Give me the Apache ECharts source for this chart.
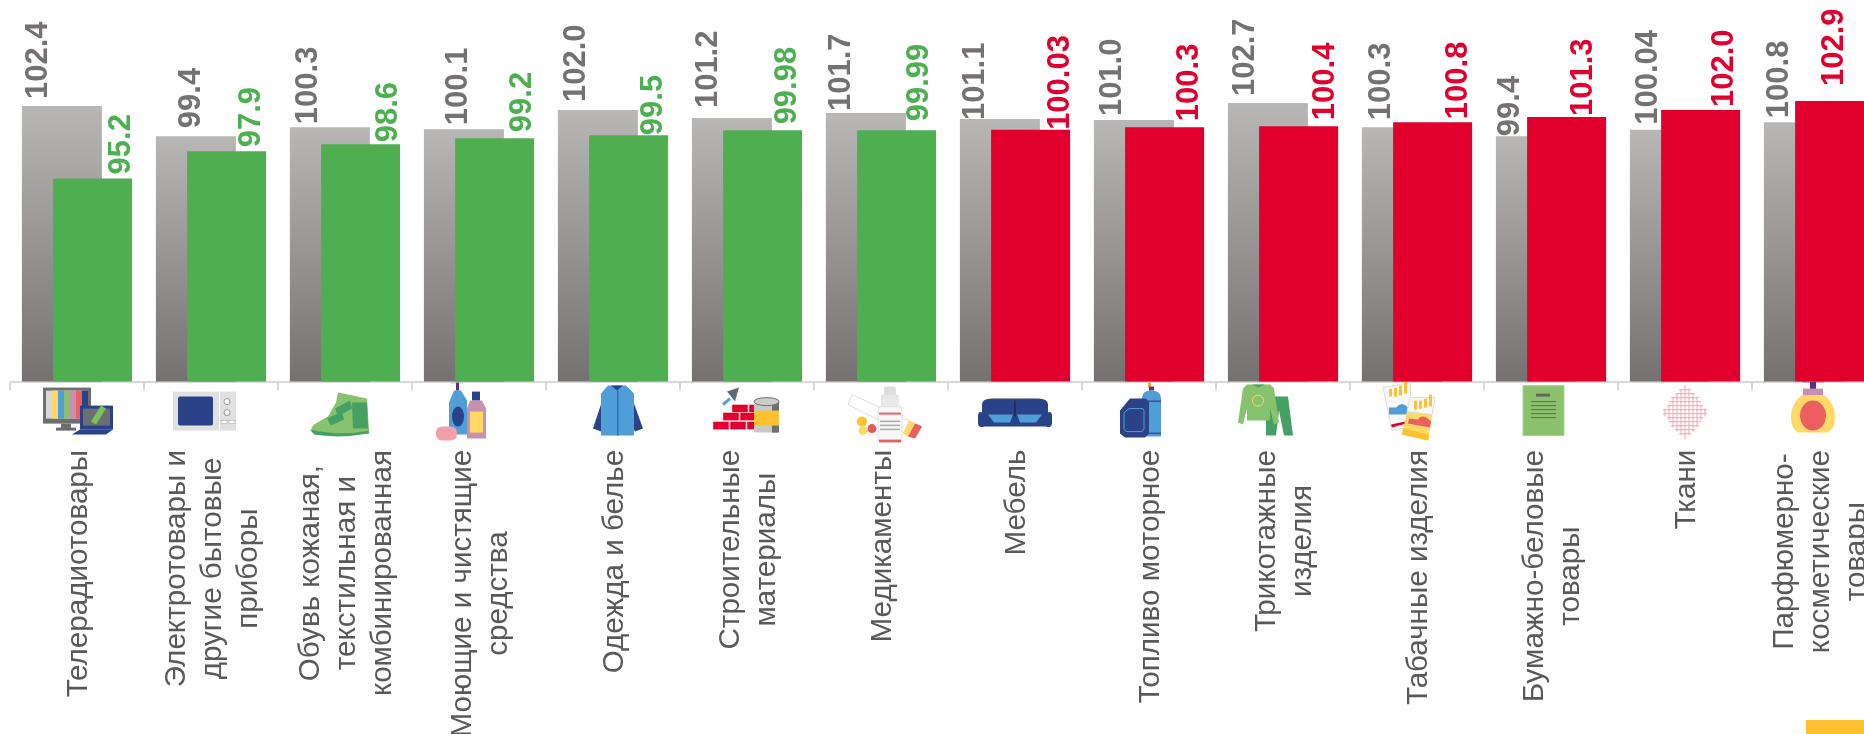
<!DOCTYPE html>
<html><head><meta charset="utf-8">
<style>html,body{margin:0;padding:0;background:#fff;overflow:hidden}#c{width:1864px;height:734px}</style>
<script src="https://cdn.jsdelivr.net/npm/echarts@6/dist/echarts.min.js"></script>
</head><body><div id="c"></div>
<script>
const categories = ['Телерадиотовары','Электротовары и\nдругие бытовые\nприборы','Обувь кожаная,\nтекстильная и\nкомбинированная','Моющие и чистящие\nсредства','Одежда и белье','Строительные\nматериалы','Медикаменты','Мебель','Топливо моторное','Трикотажные\nизделия','Табачные изделия','Бумажно-беловые\nтовары','Ткани','Парфюмерно-\nкосметические\nтовары'];
const previousValues = [102.4,99.4,100.3,100.1,102.0,101.2,101.7,101.1,101.0,102.7,100.3,99.4,100.04,100.8];
const currentValues = [95.2,97.9,98.6,99.2,99.5,99.98,99.99,100.03,100.3,100.4,100.8,101.3,102.0,102.9];
// label nudges (layout only): sideways shift and gap above the bar
const prevLabelShift = [-23,-4,-21,-5,-21,-23,-24,-24,-21,-22,-20,-25,-21,-24];
const curLabelShift = [29,25,28,28,25,25,23,30,25,27,26,17,24,0];
const prevLabelGap = [7,8,3,4,8,10,2,-1,4,7,7,0,5,4];
const curLabelGap = [4,4,2,6,0,6,9,0,6,6,3,1,3,15];

const icons = [
`<rect x="11" y="9" width="48" height="36" fill="#6d6e70"/><rect x="14" y="12" width="42" height="28" fill="#d9d9d9"/><rect x="20" y="12" width="6" height="28" fill="#ffd966"/><rect x="26" y="12" width="6" height="28" fill="#4f9ed8"/><rect x="32" y="12" width="6" height="28" fill="#8bc16c"/><rect x="38" y="12" width="6" height="28" fill="#c78fb0"/><rect x="44" y="12" width="6" height="28" fill="#ec5f61"/><rect x="50" y="12" width="6" height="28" fill="#2a4287"/><rect x="29" y="45" width="10" height="5" fill="#6d6e70"/><rect x="24" y="49" width="20" height="3" fill="#6d6e70"/><rect x="48" y="27" width="33" height="24" fill="#2a4287"/><rect x="51" y="30" width="27" height="17" fill="#6d6e70"/><polygon points="48,51 81,51 74,56 40,56" fill="#2a4287"/><polygon points="59,43 69,27 74,30 64,46" fill="#7bc35a"/>`,
`<rect x="7" y="13" width="63" height="39" fill="#e0e0e0"/><rect x="12" y="18" width="35" height="29" rx="2" fill="#2a4287"/><rect x="53" y="13" width="1" height="39" fill="#fff"/><circle cx="61" cy="23" r="3" fill="#fff" stroke="#999"/><circle cx="61" cy="34" r="3" fill="#fff" stroke="#999"/><rect x="55" y="42" width="6" height="3" fill="#fff" stroke="#999" stroke-width=".5"/><rect x="63" y="42" width="6" height="3" fill="#fff" stroke="#999" stroke-width=".5"/>`,
`<path d="M14 46 L28 38 L36 24 L38 14 L67 20 L69 52 Q45 58 16 54 Q8 52 14 46Z" fill="#87c26c"/><path d="M52 24 L67 24 L68 50 L53 50Z" fill="#45a063"/><path d="M35 30 L50 22 L52 30 L38 38Z" fill="#45a063"/><path d="M27 40 L42 33 L44 41 L31 47Z" fill="#45a063"/><path d="M10 51 Q40 58 69 52 L69 55 Q40 60 14 56Z" fill="#45a063"/>`,
`<rect x="17" y="2" width="12" height="3" fill="#ccc"/><rect x="22" y="4" width="3" height="8" fill="#5b2d8e"/><path d="M20 12 H27 L33 22 V56 H15 V24Z" fill="#4f9ed8"/><ellipse cx="24" cy="38" rx="6" ry="10" fill="#2a4287"/><rect x="38" y="13" width="8" height="9" fill="#2a4287"/><path d="M36 22 H48 L52 30 V60 H33 V30Z" fill="#c78fb0"/><rect x="36" y="33" width="13" height="21" fill="#ffd966"/><rect x="2" y="48" width="21" height="14" rx="6" fill="#f2a0a5"/>`,
`<polygon points="37,14 25,50 33,53 38,40" fill="#2a4287"/><polygon points="62,14 75,50 67,53 61,40" fill="#2a4287"/><polygon points="40,7 58,7 66,15 66,57 33,57 33,15" fill="#4f9ed8"/><polygon points="43,7 55,7 49,12" fill="#2a4287"/><rect x="49" y="12" width="1.5" height="45" fill="#2a6fb5"/>`,
`<polygon points="25,13 37,9 33,23" fill="#5f6a77"/><path d="M21 26 L28 20" stroke="#4f9ed8" stroke-width="3"/><g fill="#e1002d" stroke="#f7c4cc" stroke-width=".6"><rect x="30" y="26" width="16" height="8"/><rect x="47" y="26" width="7" height="8"/><rect x="21" y="34" width="16" height="8"/><rect x="38" y="34" width="16" height="8"/><rect x="11" y="43" width="16" height="8"/><rect x="28" y="43" width="16" height="8"/><rect x="45" y="43" width="9" height="8"/></g><rect x="52" y="24" width="25" height="30" rx="2" fill="#c9c9c9"/><rect x="70" y="24" width="7" height="30" fill="#6d6e70"/><ellipse cx="64.500" cy="23" rx="12.500" ry="4" fill="#ccc" stroke="#6d6e70"/><rect x="52" y="32" width="25" height="15" fill="#ffc12f"/>`,
`<polygon points="16,16 86,48 79,60 12,26" fill="#fff" stroke="#ddd"/><polygon points="73,42 79,45 72,58 67,55" fill="#ffd966"/><polygon points="79,45 86,48 79,60 72,58" fill="#ec5f61"/><rect x="48" y="8" width="12" height="12" rx="2" fill="#ddd"/><rect x="45" y="16" width="18" height="12" fill="#e8e8e8"/><path d="M43 28 H65 L66 32 V64 H42 V32Z" fill="#f6f6f6" stroke="#e0e0e0"/><rect x="43" y="34" width="22" height="2" fill="#ec5f61"/><rect x="44" y="42" width="20" height="1.500" fill="#aaa"/><rect x="44" y="46" width="20" height="1.500" fill="#aaa"/><rect x="44" y="50" width="20" height="1.500" fill="#aaa"/><rect x="43" y="61" width="22" height="3" fill="#ec5f61"/><circle cx="26" cy="43" r="5" fill="#ffc12f"/><circle cx="27" cy="52" r="4.500" fill="#ffd966"/><circle cx="36" cy="50" r="4.500" fill="#e35b5b"/>`,
`<path d="M12 26 Q12 20 22 20 H68 Q78 20 78 26 V34 Q82 32 82 38 V44 Q82 50 76 48 H14 Q8 50 8 44 V38 Q8 32 12 34Z" fill="#2a4287"/><path d="M18 36 H43 L40 44 H24Z" fill="#4f9ed8"/><path d="M47 36 H72 L66 44 H50Z" fill="#4f9ed8"/><rect x="44" y="22" width="2" height="16" fill="#1d2f66"/>`,
`<rect x="44" y="4" width="3" height="5" fill="#f0a43c"/><rect x="45" y="8" width="5" height="4" fill="#5b2d8e"/><path d="M38 20 Q38 12 47 12 Q57 12 57 20 V58 H38Z" fill="#4f9ed8"/><rect x="38" y="22" width="19" height="1.200" fill="#5b2d8e"/><rect x="38" y="54" width="19" height="1.200" fill="#5b2d8e"/><path d="M26 20 H42 L45 24 V55 L41 59 H21 L16 55 V32Z" fill="#2a4287"/><path d="M25 30 H39 L40 32 V50 L38 53 H22 L20 50 V34Z" fill="none" stroke="#4f9ed8" stroke-width="1"/>`,
`<path d="M28 18 H50 L55 57 H46 L41 32 L38 57 H28Z" fill="#45a063"/><path d="M9 6 H32 L36 10 L41 44 L36 46 L32 30 V42 H9 V30 L5 46 L0 44 L5 10Z" fill="#87c26c"/><path d="M14 6 H27 L20 9Z" fill="#45a063"/><circle cx="20" cy="22" r="5.500" fill="none" stroke="#ffd966"/>`,
`<polygon points="11,9 38,4 40,48 20,52" fill="#f8f8f8" stroke="#ddd"/><g fill="#ffc12f"><rect x="17" y="10" width="3" height="8"/><rect x="22" y="9" width="3" height="9"/><rect x="27" y="7" width="3" height="10"/><rect x="32" y="3" width="3" height="12"/></g><path d="M17 36 H36 V29 Q30 22 24 29 H17Z" fill="#4f9ed8"/><polygon points="19,46 38,42 38,44 20,49" fill="#e1002d"/><polygon points="38,19 63,19 56,62 30,56" fill="#ffd966"/><polygon points="38,19 63,19 60,36 35,33" fill="#f8f8f8" stroke="#ddd"/><polygon points="31,50 57,56 56,62 30,56" fill="#ffc12f"/><g fill="#ffc12f"><rect x="42" y="22" width="3" height="9"/><rect x="47" y="22" width="3" height="8"/><rect x="52" y="20" width="3" height="9"/><rect x="57" y="16" width="3" height="12"/></g><path d="M36 45 L58 49 L59 43 Q50 34 46 41 L37 40Z" fill="#ec5f61"/>`,
`<rect x="17" y="7" width="41" height="50" fill="#8bc16c" stroke="#a9d296"/><rect x="30" y="15" width="14" height="3" fill="#666"/><g stroke="#666" stroke-width="1"><path d="M25 23 H50 M25 27 H50 M25 31 H50 M25 35 H50 M25 39 H50"/></g>`,
`<g stroke="#f4b3bd" stroke-width="1.2" fill="none"><path d="M41 11 V57 M45 7 V61 M49 11 V57 M33 19 V49 M37 15 V53 M53 15 V53 M57 19 V49 M29 26 V42 M25 30 V38 M61 26 V42 M65 30 V38"/><path d="M39 11 H51 M35 15 H55 M31 19 H59 M29 23 H61 M27 27 H63 M23 31 H67 M23 35 H67 M27 39 H63 M29 43 H61 M31 47 H59 M35 51 H55 M39 55 H51"/></g>`,
`<rect x="28" y="1" width="22" height="3" fill="#c78fb0"/><rect x="36" y="3" width="6" height="9" fill="#5b2d8e"/><rect x="29" y="10" width="20" height="7" fill="#c78fb0"/><path d="M27 17 H51 Q61 26 61 38 Q61 50 54 54 H24 Q17 50 17 38 Q17 26 27 17Z" fill="#ffd966"/><ellipse cx="39" cy="37" rx="13" ry="15" fill="#ec5f61"/>`
];
const iconRich = {};
icons.forEach((s,i)=>{
  iconRich['ic'+i] = {width:90,height:64,backgroundColor:{image:'data:image/svg+xml;charset=utf-8,'+encodeURIComponent('<svg xmlns="http://www.w3.org/2000/svg" width="90" height="64" viewBox="0 0 90 64">'+s+'</svg>')}};
});

const FONT = 'Liberation Sans';
const LABEL_SIZE = 29.6;
const VALUE_SIZE = 31;
const ctx = document.createElement('canvas').getContext('2d');
ctx.font = LABEL_SIZE+'px "'+FONT+'"';
const catRich = {};
const blockWidth = categories.map(c=>Math.ceil(Math.max(...c.split('\n').map(l=>ctx.measureText(l).width))));
blockWidth.forEach((w,i)=>{catRich['c'+i]={width:w,align:'center',fontFamily:FONT,fontSize:LABEL_SIZE,color:'#595959',lineHeight:36};});

function fmt(v){const r=Number(v.toFixed(1));return r===v?v.toFixed(1):String(v);}
function valueLabel(p){return fmt(p.value);}

const chart = echarts.init(document.getElementById('c'),null,{renderer:'canvas'});
chart.setOption({
  animation:false,
  backgroundColor:'#fff',
  grid:{left:10,width:1876,top:29.6,height:352,outerBoundsMode:'none',containLabel:false},
  xAxis:[{
    type:'category',data:categories,position:'bottom',
    axisLine:{lineStyle:{color:'#d9d9d9',width:2}},
    axisTick:{show:true,length:9,lineStyle:{color:'#d9d9d9',width:2},alignWithLabel:false},
    axisLabel:{interval:0,rotate:90,margin:68,hideOverlap:false,padding:[4,0,0,0],rich:catRich,
      formatter:(v,i)=>v.split('\n').map(l=>'{c'+i+'|'+l+'}').join('\n')}
  },{
    type:'category',data:categories,position:'bottom',
    axisLine:{show:false},axisTick:{show:false},
    axisLabel:{interval:0,margin:-3,hideOverlap:false,rich:iconRich,formatter:(v,i)=>'{ic'+i+'| }'}
  }],
  yAxis:{type:'value',min:75,max:110,show:false,splitLine:{show:false}},
  series:[{
    type:'bar',name:'prev',barWidth:80,barGap:'-61%',
    data:previousValues.map((v,i)=>({value:v,label:{offset:[prevLabelGap[i],prevLabelShift[i]]}})),
    itemStyle:{color:{type:'linear',x:0,y:0,x2:0,y2:1,colorStops:[{offset:0,color:'#b8b7b5'},{offset:1,color:'#767171'}]}},
    label:{show:true,position:'top',rotate:90,align:'left',verticalAlign:'middle',distance:0,formatter:valueLabel,color:'#767171',fontFamily:FONT,fontWeight:'bold',fontSize:VALUE_SIZE}
  },{
    type:'bar',name:'cur',barWidth:79,
    data:currentValues.map((v,i)=>{const c=v<100?'#4fae50':'#e1002d';return {value:v,itemStyle:{color:c},label:{color:v<100?'#4caf50':'#e1002d',offset:[curLabelGap[i],curLabelShift[i]]}};}),
    label:{show:true,position:'top',rotate:90,align:'left',verticalAlign:'middle',distance:0,formatter:valueLabel,fontFamily:FONT,fontWeight:'bold',fontSize:VALUE_SIZE}
  }],
  graphic:[{type:'rect',left:1806,top:720,shape:{width:58,height:14},style:{fill:'#ffc12f'}}]
});
</script></body></html>
